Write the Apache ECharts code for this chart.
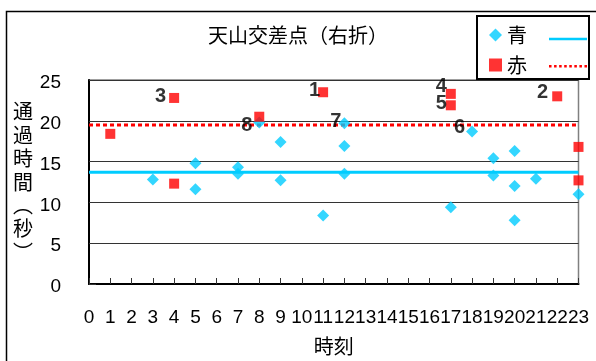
<!DOCTYPE html>
<html>
<head>
<meta charset="utf-8">
<script src="https://cdn.jsdelivr.net/npm/echarts@6/dist/echarts.min.js"></script>
<style>
  html, body { margin: 0; padding: 0; background: #fff; }
  #chart { width: 596px; height: 361px; }
</style>
</head>
<body>
<div id="chart"></div>
<script>
// Hour of day (x) and passage time in seconds (y) for each observation
const blueHour = [3, 5, 5, 7, 7, 8, 9, 9, 11, 12, 12, 12, 17, 18, 19, 19, 20, 20, 20, 21, 23];
const blueTime = [12.8, 14.8, 11.6, 14.3, 13.5, 19.8, 17.4, 12.7, 8.4, 19.7, 16.9, 13.5, 9.4, 18.7, 15.4, 13.3, 16.3, 12.0, 7.8, 12.9, 11.0];
const blueTag  = ['', '', '', '', '', '8', '', '', '', '7', '', '', '', '6', '', '', '', '', '', '', ''];

const redHour = [1, 4, 4, 8, 11, 17, 17, 22, 23, 23];
const redTime = [18.4, 22.8, 12.3, 20.5, 23.5, 23.3, 21.9, 23.0, 16.8, 12.7];
const redTag  = ['', '3', '', '', '1', '4', '5', '2', '', ''];

// Average passage time for each signal phase
const avgBlue = 13.7;
const avgRed = 19.5;

const hourRange = [0, 23];
const timeTicks = [0, 5, 10, 15, 20, 25];

const BLUE = '#00CCFF';
const RED = '#FF0000';
const CJK = '"Noto Sans CJK JP", sans-serif';
const LATIN = '"Liberation Sans", Arial, sans-serif';

// small label nudges so the numbers sit beside their marks
const tagNudge = {
  '1': [2, -2], '2': [-4, -4], '3': [-3, -1], '4': [1, -7],
  '5': [1, -2], '6': [-1, -4], '7': [3, -2], '8': [-1, 3]
};

function points(hours, times, tags) {
  return hours.map((h, i) => {
    const item = { value: [h, times[i]] };
    if (tags[i]) {
      item.label = { show: true, formatter: tags[i], offset: tagNudge[tags[i]] || [0, 0] };
    }
    return item;
  });
}

const dotPath = 'path://' + [0, 5, 10, 15, 20, 25, 30, 35]
  .map(x => `M${x},0h2.5v2.5h-2.5z`).join(' ');

const chart = echarts.init(document.getElementById('chart'), null, { renderer: 'canvas' });

chart.setOption({
  animation: false,
  backgroundColor: '#fff',
  title: {
    text: '天山交差点（右折）',
    left: 'center',
    top: 20,
    textStyle: { fontFamily: CJK, fontSize: 20, fontWeight: 'normal', color: '#000' }
  },
  legend: [
    {
      data: [{ name: '青', icon: 'diamond' }, { name: '赤', icon: 'rect' }],
      orient: 'vertical',
      left: 477,
      top: 16,
      padding: [9, 62, 4, 12],
      itemGap: 10,
      itemWidth: 13,
      itemHeight: 13,
      selectedMode: false,
      borderColor: '#000',
      borderWidth: 2,
      backgroundColor: '#fff',
      textStyle: { fontFamily: CJK, fontSize: 20, color: '#000' }
    },
    {
      data: [
        { name: '青平均', icon: 'path://M0,0h38v2.5h-38z' },
        { name: '赤平均', icon: dotPath }
      ],
      orient: 'vertical',
      left: 549,
      top: 32,
      padding: 0,
      itemGap: 19,
      itemWidth: 38,
      itemHeight: 14,
      selectedMode: false,
      formatter: () => '',
      textStyle: { fontSize: 1 }
    }
  ],
  grid: {
    left: 89, right: 17.5, top: 80, bottom: 73.3,
    show: true, borderColor: '#808080', borderWidth: 1.5
  },
  xAxis: {
    type: 'value',
    min: hourRange[0], max: hourRange[1], interval: 1,
    name: '時刻',
    nameLocation: 'middle',
    nameGap: 52,
    nameTextStyle: { fontFamily: CJK, fontSize: 20, color: '#000' },
    axisLine: { lineStyle: { color: '#000', width: 2 } },
    axisTick: { inside: true, length: 6, lineStyle: { color: '#333' } },
    axisLabel: { margin: 24, fontFamily: LATIN, fontSize: 19, color: '#000' },
    splitLine: { show: false }
  },
  yAxis: {
    type: 'value',
    min: timeTicks[0], max: timeTicks[timeTicks.length - 1], interval: 5,
    name: '通\n過\n時\n間\n︵\n秒\n︶',
    nameLocation: 'middle',
    nameRotate: 0,
    nameGap: 56,
    nameTextStyle: { fontFamily: CJK, fontSize: 20, lineHeight: 23.4, color: '#000' },
    axisLine: { lineStyle: { color: '#000', width: 2 } },
    axisTick: { inside: true, length: 7, lineStyle: { color: '#333' } },
    axisLabel: {
      margin: 28, fontFamily: LATIN, fontSize: 19, color: '#000',
      verticalAlign: 'top', lineHeight: 6
    },
    splitLine: { lineStyle: { color: '#333', width: 1 } }
  },
  graphic: [{
    type: 'rect',
    shape: { x: 6.5, y: 11.5, width: 700, height: 500 },
    style: { fill: 'none', stroke: '#000', lineWidth: 1.5 },
    silent: true,
    z: 100
  }],
  series: [
    {
      name: '青平均',
      type: 'line',
      color: BLUE,
      data: [[hourRange[0], avgBlue], [hourRange[1], avgBlue]],
      symbol: 'none',
      lineStyle: { color: BLUE, width: 3 },
      z: 1
    },
    {
      name: '赤平均',
      type: 'line',
      color: RED,
      data: [[hourRange[0], avgRed], [hourRange[1], avgRed]],
      symbol: 'none',
      lineStyle: { color: RED, width: 3, type: [4, 3] },
      z: 1
    },
    {
      name: '青',
      type: 'scatter',
      color: BLUE,
      symbol: 'diamond',
      symbolSize: 12,
      itemStyle: { color: BLUE },
      label: {
        show: false, position: 'left', distance: 0,
        fontFamily: LATIN, fontSize: 20, fontWeight: 'bold', color: '#000'
      },
      data: points(blueHour, blueTime, blueTag),
      z: 3
    },
    {
      name: '赤',
      type: 'scatter',
      color: RED,
      symbol: 'rect',
      symbolSize: 10,
      itemStyle: { color: RED },
      label: {
        show: false, position: 'left', distance: 0,
        fontFamily: LATIN, fontSize: 20, fontWeight: 'bold', color: '#000'
      },
      data: points(redHour, redTime, redTag),
      z: 4
    }
  ]
});
</script>
</body>
</html>
